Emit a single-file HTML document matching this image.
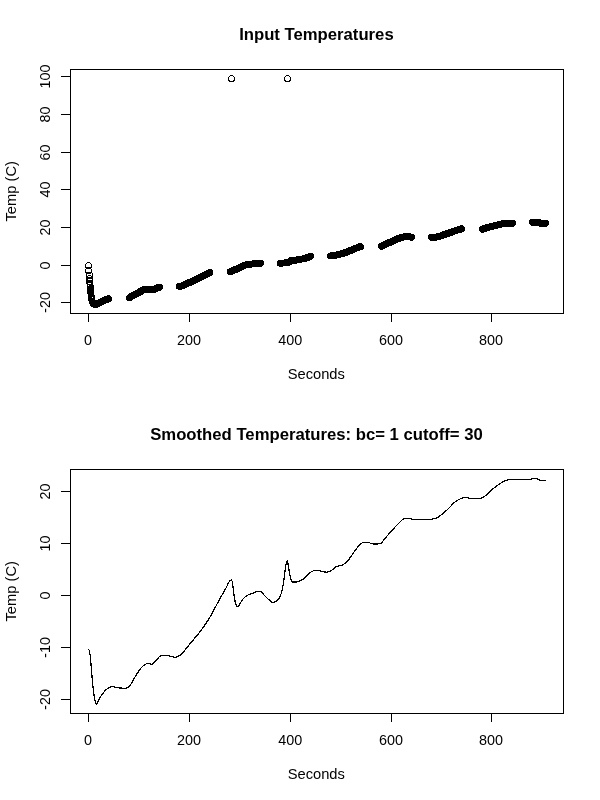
<!DOCTYPE html>
<html><head><meta charset="utf-8"><title>Temperatures</title>
<style>
html,body{margin:0;padding:0;background:#fff;}
svg{display:block;}
text{font-family:"Liberation Sans",sans-serif;fill:#000;}
.t{font-size:14.4px;}
.a{font-size:14.7px;}
.h{font-size:16.7px;font-weight:bold;}
.l{stroke:#000;stroke-width:1;fill:none;shape-rendering:crispEdges;}
.c circle{stroke:#000;stroke-width:1;fill:none;shape-rendering:crispEdges;}
</style></head><body>
<svg width="600" height="800" viewBox="0 0 600 800">
<rect width="600" height="800" fill="#fff"/>
<!-- top plot -->
<text class="h" x="316.4" y="40" text-anchor="middle">Input Temperatures</text>
<g class="l">
<rect x="70.5" y="69.5" width="493" height="244"/>
<path d="M88.5 313.5V321.5M189.5 313.5V321.5M290.5 313.5V321.5M391.5 313.5V321.5M491.5 313.5V321.5"/>
<path d="M70.5 76.5H60.5M70.5 114.5H60.5M70.5 152.5H60.5M70.5 189.5H60.5M70.5 227.5H60.5M70.5 265.5H60.5M70.5 302.5H60.5"/>
</g>
<g class="t" text-anchor="middle">
<text x="88" y="345">0</text><text x="189" y="345">200</text><text x="290.2" y="345">400</text><text x="391" y="345">600</text><text x="491" y="345">800</text>
<text class="a" x="316.3" y="379">Seconds</text>
<text transform="translate(50 76.5) rotate(-90)">100</text>
<text transform="translate(50 114.5) rotate(-90)">80</text>
<text transform="translate(50 152.5) rotate(-90)">60</text>
<text transform="translate(50 189.5) rotate(-90)">40</text>
<text transform="translate(50 227.5) rotate(-90)">20</text>
<text transform="translate(50 265.5) rotate(-90)">0</text>
<text transform="translate(50 302.5) rotate(-90)">-20</text>
<text transform="translate(16 191.3) rotate(-90)" class="a">Temp (C)</text>
</g>
<g class="c"><circle cx="88.5" cy="265.5" r="3"/><circle cx="88.5" cy="270.5" r="3"/><circle cx="89.5" cy="275.0" r="3"/><circle cx="89.5" cy="278.5" r="3"/><circle cx="89.7" cy="281.3" r="3"/><circle cx="89.9" cy="283.5" r="3"/><circle cx="90.1" cy="285.5" r="3"/><circle cx="90.3" cy="287.2" r="3"/><circle cx="90.5" cy="288.8" r="3"/><circle cx="90.6" cy="290.2" r="3"/><circle cx="90.7" cy="291.5" r="3"/><circle cx="90.9" cy="292.8" r="3"/><circle cx="91.0" cy="294.1" r="3"/><circle cx="91.1" cy="295.4" r="3"/><circle cx="91.2" cy="296.7" r="3"/><circle cx="91.3" cy="298.0" r="3"/><circle cx="91.4" cy="299.3" r="3"/><circle cx="92.0" cy="301.3" r="3"/><circle cx="92.5" cy="302.3" r="3"/><circle cx="93.0" cy="303.1" r="3"/><circle cx="93.5" cy="303.7" r="3"/><circle cx="94.0" cy="304.1" r="3"/><circle cx="94.5" cy="304.4" r="3"/><circle cx="95.0" cy="304.5" r="3"/><circle cx="95.5" cy="304.5" r="3"/><circle cx="96.0" cy="304.4" r="3"/><circle cx="96.5" cy="304.2" r="3"/><circle cx="97.0" cy="303.9" r="3"/><circle cx="97.5" cy="303.7" r="3"/><circle cx="98.0" cy="303.5" r="3"/><circle cx="98.5" cy="303.2" r="3"/><circle cx="99.0" cy="303.0" r="3"/><circle cx="99.5" cy="302.8" r="3"/><circle cx="100.0" cy="302.5" r="3"/><circle cx="100.5" cy="302.3" r="3"/><circle cx="101.0" cy="302.1" r="3"/><circle cx="101.5" cy="301.8" r="3"/><circle cx="102.0" cy="301.6" r="3"/><circle cx="102.5" cy="301.4" r="3"/><circle cx="103.0" cy="301.1" r="3"/><circle cx="103.5" cy="300.9" r="3"/><circle cx="104.0" cy="300.7" r="3"/><circle cx="104.5" cy="300.4" r="3"/><circle cx="105.0" cy="300.2" r="3"/><circle cx="105.5" cy="300.0" r="3"/><circle cx="106.0" cy="299.7" r="3"/><circle cx="106.5" cy="299.5" r="3"/><circle cx="107.0" cy="299.2" r="3"/><circle cx="107.5" cy="299.0" r="3"/><circle cx="108.0" cy="298.8" r="3"/><circle cx="108.5" cy="298.5" r="3"/><circle cx="129.3" cy="298.0" r="3"/><circle cx="129.8" cy="297.6" r="3"/><circle cx="130.3" cy="297.3" r="3"/><circle cx="130.8" cy="296.9" r="3"/><circle cx="131.3" cy="296.6" r="3"/><circle cx="131.8" cy="296.2" r="3"/><circle cx="132.3" cy="295.9" r="3"/><circle cx="132.8" cy="295.6" r="3"/><circle cx="133.3" cy="295.3" r="3"/><circle cx="133.8" cy="295.0" r="3"/><circle cx="134.3" cy="294.8" r="3"/><circle cx="134.8" cy="294.5" r="3"/><circle cx="135.3" cy="294.2" r="3"/><circle cx="135.8" cy="294.0" r="3"/><circle cx="136.3" cy="293.7" r="3"/><circle cx="136.9" cy="293.4" r="3"/><circle cx="137.4" cy="293.1" r="3"/><circle cx="137.9" cy="292.9" r="3"/><circle cx="138.4" cy="292.6" r="3"/><circle cx="138.9" cy="292.3" r="3"/><circle cx="139.4" cy="292.0" r="3"/><circle cx="139.9" cy="291.8" r="3"/><circle cx="140.4" cy="291.5" r="3"/><circle cx="140.9" cy="291.3" r="3"/><circle cx="141.4" cy="291.0" r="3"/><circle cx="141.9" cy="290.7" r="3"/><circle cx="142.4" cy="290.3" r="3"/><circle cx="142.9" cy="290.0" r="3"/><circle cx="143.4" cy="289.8" r="3"/><circle cx="143.9" cy="289.5" r="3"/><circle cx="144.4" cy="289.4" r="3"/><circle cx="144.9" cy="289.3" r="3"/><circle cx="145.4" cy="289.3" r="3"/><circle cx="145.9" cy="289.4" r="3"/><circle cx="146.4" cy="289.4" r="3"/><circle cx="146.9" cy="289.5" r="3"/><circle cx="147.4" cy="289.6" r="3"/><circle cx="147.9" cy="289.7" r="3"/><circle cx="148.4" cy="289.8" r="3"/><circle cx="148.9" cy="289.8" r="3"/><circle cx="149.4" cy="289.8" r="3"/><circle cx="149.9" cy="289.8" r="3"/><circle cx="150.4" cy="289.8" r="3"/><circle cx="151.0" cy="289.8" r="3"/><circle cx="151.5" cy="289.7" r="3"/><circle cx="152.0" cy="289.7" r="3"/><circle cx="152.5" cy="289.7" r="3"/><circle cx="153.0" cy="289.6" r="3"/><circle cx="153.5" cy="289.6" r="3"/><circle cx="154.0" cy="289.5" r="3"/><circle cx="154.5" cy="289.3" r="3"/><circle cx="155.0" cy="289.0" r="3"/><circle cx="155.5" cy="288.8" r="3"/><circle cx="156.0" cy="288.5" r="3"/><circle cx="156.5" cy="288.2" r="3"/><circle cx="157.0" cy="288.0" r="3"/><circle cx="157.5" cy="287.8" r="3"/><circle cx="158.0" cy="287.7" r="3"/><circle cx="158.5" cy="287.5" r="3"/><circle cx="159.0" cy="287.4" r="3"/><circle cx="159.5" cy="287.3" r="3"/><circle cx="159.6" cy="287.3" r="3"/><circle cx="179.3" cy="286.3" r="3"/><circle cx="179.8" cy="286.3" r="3"/><circle cx="180.3" cy="286.2" r="3"/><circle cx="180.8" cy="286.1" r="3"/><circle cx="181.3" cy="286.0" r="3"/><circle cx="181.8" cy="285.9" r="3"/><circle cx="182.3" cy="285.8" r="3"/><circle cx="182.8" cy="285.6" r="3"/><circle cx="183.3" cy="285.4" r="3"/><circle cx="183.8" cy="285.1" r="3"/><circle cx="184.3" cy="284.9" r="3"/><circle cx="184.8" cy="284.6" r="3"/><circle cx="185.3" cy="284.4" r="3"/><circle cx="185.8" cy="284.1" r="3"/><circle cx="186.3" cy="283.9" r="3"/><circle cx="186.9" cy="283.7" r="3"/><circle cx="187.4" cy="283.4" r="3"/><circle cx="187.9" cy="283.2" r="3"/><circle cx="188.4" cy="283.0" r="3"/><circle cx="188.9" cy="282.8" r="3"/><circle cx="189.4" cy="282.6" r="3"/><circle cx="189.9" cy="282.3" r="3"/><circle cx="190.4" cy="282.1" r="3"/><circle cx="190.9" cy="281.9" r="3"/><circle cx="191.4" cy="281.7" r="3"/><circle cx="191.9" cy="281.4" r="3"/><circle cx="192.4" cy="281.2" r="3"/><circle cx="192.9" cy="281.0" r="3"/><circle cx="193.4" cy="280.8" r="3"/><circle cx="193.9" cy="280.5" r="3"/><circle cx="194.4" cy="280.3" r="3"/><circle cx="194.9" cy="280.0" r="3"/><circle cx="195.4" cy="279.8" r="3"/><circle cx="195.9" cy="279.6" r="3"/><circle cx="196.4" cy="279.3" r="3"/><circle cx="196.9" cy="279.1" r="3"/><circle cx="197.4" cy="278.8" r="3"/><circle cx="197.9" cy="278.6" r="3"/><circle cx="198.4" cy="278.3" r="3"/><circle cx="198.9" cy="278.1" r="3"/><circle cx="199.4" cy="277.8" r="3"/><circle cx="199.9" cy="277.6" r="3"/><circle cx="200.4" cy="277.3" r="3"/><circle cx="201.0" cy="277.0" r="3"/><circle cx="201.5" cy="276.8" r="3"/><circle cx="202.0" cy="276.5" r="3"/><circle cx="202.5" cy="276.3" r="3"/><circle cx="203.0" cy="276.0" r="3"/><circle cx="203.5" cy="275.7" r="3"/><circle cx="204.0" cy="275.5" r="3"/><circle cx="204.5" cy="275.2" r="3"/><circle cx="205.0" cy="275.0" r="3"/><circle cx="205.5" cy="274.7" r="3"/><circle cx="206.0" cy="274.4" r="3"/><circle cx="206.5" cy="274.2" r="3"/><circle cx="207.0" cy="273.9" r="3"/><circle cx="207.5" cy="273.6" r="3"/><circle cx="208.0" cy="273.4" r="3"/><circle cx="208.5" cy="273.1" r="3"/><circle cx="209.0" cy="272.8" r="3"/><circle cx="209.5" cy="272.5" r="3"/><circle cx="209.6" cy="272.5" r="3"/><circle cx="230.3" cy="271.8" r="3"/><circle cx="230.8" cy="271.6" r="3"/><circle cx="231.3" cy="271.4" r="3"/><circle cx="231.8" cy="271.1" r="3"/><circle cx="232.3" cy="270.9" r="3"/><circle cx="232.8" cy="270.7" r="3"/><circle cx="233.3" cy="270.5" r="3"/><circle cx="233.8" cy="270.3" r="3"/><circle cx="234.3" cy="270.1" r="3"/><circle cx="234.8" cy="269.8" r="3"/><circle cx="235.3" cy="269.6" r="3"/><circle cx="235.8" cy="269.4" r="3"/><circle cx="236.3" cy="269.2" r="3"/><circle cx="236.8" cy="268.9" r="3"/><circle cx="237.3" cy="268.7" r="3"/><circle cx="237.9" cy="268.5" r="3"/><circle cx="238.4" cy="268.2" r="3"/><circle cx="238.9" cy="267.9" r="3"/><circle cx="239.4" cy="267.7" r="3"/><circle cx="239.9" cy="267.4" r="3"/><circle cx="240.4" cy="267.1" r="3"/><circle cx="240.9" cy="266.9" r="3"/><circle cx="241.4" cy="266.6" r="3"/><circle cx="241.9" cy="266.4" r="3"/><circle cx="242.4" cy="266.1" r="3"/><circle cx="242.9" cy="265.9" r="3"/><circle cx="243.4" cy="265.7" r="3"/><circle cx="243.9" cy="265.5" r="3"/><circle cx="244.4" cy="265.4" r="3"/><circle cx="244.9" cy="265.2" r="3"/><circle cx="245.4" cy="265.1" r="3"/><circle cx="245.9" cy="265.0" r="3"/><circle cx="246.4" cy="264.9" r="3"/><circle cx="246.9" cy="264.8" r="3"/><circle cx="247.4" cy="264.7" r="3"/><circle cx="247.9" cy="264.6" r="3"/><circle cx="248.4" cy="264.5" r="3"/><circle cx="248.9" cy="264.4" r="3"/><circle cx="249.4" cy="264.3" r="3"/><circle cx="249.9" cy="264.2" r="3"/><circle cx="250.4" cy="264.2" r="3"/><circle cx="250.9" cy="264.1" r="3"/><circle cx="251.4" cy="264.0" r="3"/><circle cx="252.0" cy="264.0" r="3"/><circle cx="252.5" cy="263.9" r="3"/><circle cx="253.0" cy="263.8" r="3"/><circle cx="253.5" cy="263.8" r="3"/><circle cx="254.0" cy="263.7" r="3"/><circle cx="254.5" cy="263.7" r="3"/><circle cx="255.0" cy="263.6" r="3"/><circle cx="255.5" cy="263.6" r="3"/><circle cx="256.0" cy="263.5" r="3"/><circle cx="256.5" cy="263.5" r="3"/><circle cx="257.0" cy="263.5" r="3"/><circle cx="257.5" cy="263.4" r="3"/><circle cx="258.0" cy="263.4" r="3"/><circle cx="258.5" cy="263.3" r="3"/><circle cx="259.0" cy="263.3" r="3"/><circle cx="259.5" cy="263.3" r="3"/><circle cx="260.0" cy="263.3" r="3"/><circle cx="260.5" cy="263.2" r="3"/><circle cx="280.3" cy="263.2" r="3"/><circle cx="280.8" cy="263.2" r="3"/><circle cx="281.3" cy="263.2" r="3"/><circle cx="281.8" cy="263.2" r="3"/><circle cx="282.3" cy="263.1" r="3"/><circle cx="282.8" cy="263.1" r="3"/><circle cx="283.3" cy="263.0" r="3"/><circle cx="283.8" cy="263.0" r="3"/><circle cx="284.3" cy="262.9" r="3"/><circle cx="284.8" cy="262.9" r="3"/><circle cx="285.3" cy="262.8" r="3"/><circle cx="285.8" cy="262.7" r="3"/><circle cx="286.3" cy="262.7" r="3"/><circle cx="286.8" cy="262.6" r="3"/><circle cx="287.3" cy="262.5" r="3"/><circle cx="287.9" cy="262.4" r="3"/><circle cx="288.4" cy="262.3" r="3"/><circle cx="288.9" cy="262.1" r="3"/><circle cx="289.4" cy="262.0" r="3"/><circle cx="289.9" cy="261.6" r="3"/><circle cx="290.4" cy="261.1" r="3"/><circle cx="290.9" cy="260.8" r="3"/><circle cx="291.4" cy="260.7" r="3"/><circle cx="291.9" cy="260.6" r="3"/><circle cx="292.4" cy="260.5" r="3"/><circle cx="292.9" cy="260.4" r="3"/><circle cx="293.4" cy="260.4" r="3"/><circle cx="293.9" cy="260.3" r="3"/><circle cx="294.4" cy="260.3" r="3"/><circle cx="294.9" cy="260.2" r="3"/><circle cx="295.4" cy="260.2" r="3"/><circle cx="295.9" cy="260.1" r="3"/><circle cx="296.4" cy="260.1" r="3"/><circle cx="296.9" cy="260.0" r="3"/><circle cx="297.4" cy="259.9" r="3"/><circle cx="297.9" cy="259.8" r="3"/><circle cx="298.4" cy="259.8" r="3"/><circle cx="298.9" cy="259.7" r="3"/><circle cx="299.4" cy="259.6" r="3"/><circle cx="299.9" cy="259.5" r="3"/><circle cx="300.4" cy="259.3" r="3"/><circle cx="300.9" cy="259.2" r="3"/><circle cx="301.4" cy="259.1" r="3"/><circle cx="302.0" cy="259.0" r="3"/><circle cx="302.5" cy="258.9" r="3"/><circle cx="303.0" cy="258.8" r="3"/><circle cx="303.5" cy="258.7" r="3"/><circle cx="304.0" cy="258.5" r="3"/><circle cx="304.5" cy="258.4" r="3"/><circle cx="305.0" cy="258.3" r="3"/><circle cx="305.5" cy="258.1" r="3"/><circle cx="306.0" cy="258.0" r="3"/><circle cx="306.5" cy="257.9" r="3"/><circle cx="307.0" cy="257.7" r="3"/><circle cx="307.5" cy="257.5" r="3"/><circle cx="308.0" cy="257.4" r="3"/><circle cx="308.5" cy="257.2" r="3"/><circle cx="309.0" cy="257.0" r="3"/><circle cx="309.5" cy="256.8" r="3"/><circle cx="310.0" cy="256.6" r="3"/><circle cx="310.5" cy="256.4" r="3"/><circle cx="330.3" cy="256.0" r="3"/><circle cx="330.8" cy="255.9" r="3"/><circle cx="331.3" cy="255.9" r="3"/><circle cx="331.8" cy="255.8" r="3"/><circle cx="332.3" cy="255.7" r="3"/><circle cx="332.8" cy="255.7" r="3"/><circle cx="333.3" cy="255.6" r="3"/><circle cx="333.8" cy="255.5" r="3"/><circle cx="334.3" cy="255.4" r="3"/><circle cx="334.8" cy="255.3" r="3"/><circle cx="335.3" cy="255.2" r="3"/><circle cx="335.8" cy="255.1" r="3"/><circle cx="336.3" cy="255.0" r="3"/><circle cx="336.8" cy="254.9" r="3"/><circle cx="337.3" cy="254.8" r="3"/><circle cx="337.9" cy="254.7" r="3"/><circle cx="338.4" cy="254.6" r="3"/><circle cx="338.9" cy="254.5" r="3"/><circle cx="339.4" cy="254.3" r="3"/><circle cx="339.9" cy="254.2" r="3"/><circle cx="340.4" cy="254.1" r="3"/><circle cx="340.9" cy="254.0" r="3"/><circle cx="341.4" cy="253.9" r="3"/><circle cx="341.9" cy="253.7" r="3"/><circle cx="342.4" cy="253.6" r="3"/><circle cx="342.9" cy="253.4" r="3"/><circle cx="343.4" cy="253.3" r="3"/><circle cx="343.9" cy="253.1" r="3"/><circle cx="344.4" cy="252.9" r="3"/><circle cx="344.9" cy="252.8" r="3"/><circle cx="345.4" cy="252.6" r="3"/><circle cx="345.9" cy="252.4" r="3"/><circle cx="346.4" cy="252.2" r="3"/><circle cx="346.9" cy="252.0" r="3"/><circle cx="347.4" cy="251.8" r="3"/><circle cx="347.9" cy="251.6" r="3"/><circle cx="348.4" cy="251.4" r="3"/><circle cx="348.9" cy="251.2" r="3"/><circle cx="349.4" cy="251.0" r="3"/><circle cx="349.9" cy="250.7" r="3"/><circle cx="350.4" cy="250.5" r="3"/><circle cx="350.9" cy="250.3" r="3"/><circle cx="351.4" cy="250.0" r="3"/><circle cx="352.0" cy="249.8" r="3"/><circle cx="352.5" cy="249.6" r="3"/><circle cx="353.0" cy="249.3" r="3"/><circle cx="353.5" cy="249.1" r="3"/><circle cx="354.0" cy="248.9" r="3"/><circle cx="354.5" cy="248.7" r="3"/><circle cx="355.0" cy="248.5" r="3"/><circle cx="355.5" cy="248.3" r="3"/><circle cx="356.0" cy="248.1" r="3"/><circle cx="356.5" cy="247.9" r="3"/><circle cx="357.0" cy="247.8" r="3"/><circle cx="357.5" cy="247.6" r="3"/><circle cx="358.0" cy="247.4" r="3"/><circle cx="358.5" cy="247.2" r="3"/><circle cx="359.0" cy="247.0" r="3"/><circle cx="359.5" cy="246.8" r="3"/><circle cx="360.0" cy="246.7" r="3"/><circle cx="360.5" cy="246.5" r="3"/><circle cx="381.4" cy="246.3" r="3"/><circle cx="381.9" cy="246.1" r="3"/><circle cx="382.4" cy="245.8" r="3"/><circle cx="382.9" cy="245.6" r="3"/><circle cx="383.4" cy="245.3" r="3"/><circle cx="383.9" cy="245.1" r="3"/><circle cx="384.4" cy="244.8" r="3"/><circle cx="384.9" cy="244.6" r="3"/><circle cx="385.4" cy="244.4" r="3"/><circle cx="385.9" cy="244.1" r="3"/><circle cx="386.4" cy="243.9" r="3"/><circle cx="386.9" cy="243.7" r="3"/><circle cx="387.4" cy="243.4" r="3"/><circle cx="387.9" cy="243.2" r="3"/><circle cx="388.4" cy="243.0" r="3"/><circle cx="389.0" cy="242.7" r="3"/><circle cx="389.5" cy="242.5" r="3"/><circle cx="390.0" cy="242.3" r="3"/><circle cx="390.5" cy="242.1" r="3"/><circle cx="391.0" cy="241.8" r="3"/><circle cx="391.5" cy="241.6" r="3"/><circle cx="392.0" cy="241.4" r="3"/><circle cx="392.5" cy="241.1" r="3"/><circle cx="393.0" cy="240.9" r="3"/><circle cx="393.5" cy="240.7" r="3"/><circle cx="394.0" cy="240.4" r="3"/><circle cx="394.5" cy="240.2" r="3"/><circle cx="395.0" cy="240.0" r="3"/><circle cx="395.5" cy="239.7" r="3"/><circle cx="396.0" cy="239.5" r="3"/><circle cx="396.5" cy="239.3" r="3"/><circle cx="397.0" cy="239.1" r="3"/><circle cx="397.5" cy="238.9" r="3"/><circle cx="398.0" cy="238.7" r="3"/><circle cx="398.5" cy="238.5" r="3"/><circle cx="399.0" cy="238.4" r="3"/><circle cx="399.5" cy="238.2" r="3"/><circle cx="400.0" cy="238.0" r="3"/><circle cx="400.5" cy="237.8" r="3"/><circle cx="401.0" cy="237.7" r="3"/><circle cx="401.5" cy="237.5" r="3"/><circle cx="402.0" cy="237.3" r="3"/><circle cx="402.5" cy="237.2" r="3"/><circle cx="403.1" cy="237.0" r="3"/><circle cx="403.6" cy="236.9" r="3"/><circle cx="404.1" cy="236.8" r="3"/><circle cx="404.6" cy="236.7" r="3"/><circle cx="405.1" cy="236.6" r="3"/><circle cx="405.6" cy="236.6" r="3"/><circle cx="406.1" cy="236.6" r="3"/><circle cx="406.6" cy="236.6" r="3"/><circle cx="407.1" cy="236.6" r="3"/><circle cx="407.6" cy="236.6" r="3"/><circle cx="408.1" cy="236.7" r="3"/><circle cx="408.6" cy="236.7" r="3"/><circle cx="409.1" cy="236.8" r="3"/><circle cx="409.6" cy="236.9" r="3"/><circle cx="410.1" cy="237.0" r="3"/><circle cx="410.6" cy="237.1" r="3"/><circle cx="411.1" cy="237.2" r="3"/><circle cx="411.5" cy="237.3" r="3"/><circle cx="431.4" cy="237.3" r="3"/><circle cx="431.9" cy="237.3" r="3"/><circle cx="432.4" cy="237.3" r="3"/><circle cx="432.9" cy="237.3" r="3"/><circle cx="433.4" cy="237.2" r="3"/><circle cx="433.9" cy="237.2" r="3"/><circle cx="434.4" cy="237.2" r="3"/><circle cx="434.9" cy="237.2" r="3"/><circle cx="435.4" cy="237.1" r="3"/><circle cx="435.9" cy="237.1" r="3"/><circle cx="436.4" cy="237.0" r="3"/><circle cx="436.9" cy="237.0" r="3"/><circle cx="437.4" cy="236.9" r="3"/><circle cx="437.9" cy="236.8" r="3"/><circle cx="438.4" cy="236.7" r="3"/><circle cx="439.0" cy="236.5" r="3"/><circle cx="439.5" cy="236.4" r="3"/><circle cx="440.0" cy="236.2" r="3"/><circle cx="440.5" cy="236.0" r="3"/><circle cx="441.0" cy="235.9" r="3"/><circle cx="441.5" cy="235.7" r="3"/><circle cx="442.0" cy="235.5" r="3"/><circle cx="442.5" cy="235.3" r="3"/><circle cx="443.0" cy="235.1" r="3"/><circle cx="443.5" cy="234.9" r="3"/><circle cx="444.0" cy="234.7" r="3"/><circle cx="444.5" cy="234.5" r="3"/><circle cx="445.0" cy="234.3" r="3"/><circle cx="445.5" cy="234.1" r="3"/><circle cx="446.0" cy="234.0" r="3"/><circle cx="446.5" cy="233.8" r="3"/><circle cx="447.0" cy="233.6" r="3"/><circle cx="447.5" cy="233.5" r="3"/><circle cx="448.0" cy="233.3" r="3"/><circle cx="448.5" cy="233.1" r="3"/><circle cx="449.0" cy="232.9" r="3"/><circle cx="449.5" cy="232.8" r="3"/><circle cx="450.0" cy="232.6" r="3"/><circle cx="450.5" cy="232.4" r="3"/><circle cx="451.0" cy="232.3" r="3"/><circle cx="451.5" cy="232.1" r="3"/><circle cx="452.0" cy="231.9" r="3"/><circle cx="452.5" cy="231.8" r="3"/><circle cx="453.1" cy="231.6" r="3"/><circle cx="453.6" cy="231.4" r="3"/><circle cx="454.1" cy="231.2" r="3"/><circle cx="454.6" cy="231.1" r="3"/><circle cx="455.1" cy="230.9" r="3"/><circle cx="455.6" cy="230.7" r="3"/><circle cx="456.1" cy="230.6" r="3"/><circle cx="456.6" cy="230.4" r="3"/><circle cx="457.1" cy="230.2" r="3"/><circle cx="457.6" cy="230.1" r="3"/><circle cx="458.1" cy="229.9" r="3"/><circle cx="458.6" cy="229.8" r="3"/><circle cx="459.1" cy="229.6" r="3"/><circle cx="459.6" cy="229.4" r="3"/><circle cx="460.1" cy="229.3" r="3"/><circle cx="460.6" cy="229.1" r="3"/><circle cx="461.1" cy="228.9" r="3"/><circle cx="461.5" cy="228.8" r="3"/><circle cx="482.4" cy="229.2" r="3"/><circle cx="482.9" cy="229.0" r="3"/><circle cx="483.4" cy="228.9" r="3"/><circle cx="483.9" cy="228.7" r="3"/><circle cx="484.4" cy="228.6" r="3"/><circle cx="484.9" cy="228.4" r="3"/><circle cx="485.4" cy="228.3" r="3"/><circle cx="485.9" cy="228.1" r="3"/><circle cx="486.4" cy="228.0" r="3"/><circle cx="486.9" cy="227.8" r="3"/><circle cx="487.4" cy="227.7" r="3"/><circle cx="487.9" cy="227.5" r="3"/><circle cx="488.4" cy="227.4" r="3"/><circle cx="488.9" cy="227.2" r="3"/><circle cx="489.4" cy="227.1" r="3"/><circle cx="490.0" cy="226.9" r="3"/><circle cx="490.5" cy="226.8" r="3"/><circle cx="491.0" cy="226.7" r="3"/><circle cx="491.5" cy="226.5" r="3"/><circle cx="492.0" cy="226.4" r="3"/><circle cx="492.5" cy="226.3" r="3"/><circle cx="493.0" cy="226.1" r="3"/><circle cx="493.5" cy="226.0" r="3"/><circle cx="494.0" cy="225.9" r="3"/><circle cx="494.5" cy="225.7" r="3"/><circle cx="495.0" cy="225.6" r="3"/><circle cx="495.5" cy="225.5" r="3"/><circle cx="496.0" cy="225.3" r="3"/><circle cx="496.5" cy="225.2" r="3"/><circle cx="497.0" cy="225.1" r="3"/><circle cx="497.5" cy="225.0" r="3"/><circle cx="498.0" cy="224.8" r="3"/><circle cx="498.5" cy="224.7" r="3"/><circle cx="499.0" cy="224.6" r="3"/><circle cx="499.5" cy="224.4" r="3"/><circle cx="500.0" cy="224.3" r="3"/><circle cx="500.5" cy="224.2" r="3"/><circle cx="501.0" cy="224.1" r="3"/><circle cx="501.5" cy="224.0" r="3"/><circle cx="502.0" cy="223.9" r="3"/><circle cx="502.5" cy="223.8" r="3"/><circle cx="503.0" cy="223.8" r="3"/><circle cx="503.5" cy="223.7" r="3"/><circle cx="504.1" cy="223.7" r="3"/><circle cx="504.6" cy="223.6" r="3"/><circle cx="505.1" cy="223.6" r="3"/><circle cx="505.6" cy="223.5" r="3"/><circle cx="506.1" cy="223.5" r="3"/><circle cx="506.6" cy="223.4" r="3"/><circle cx="507.1" cy="223.4" r="3"/><circle cx="507.6" cy="223.4" r="3"/><circle cx="508.1" cy="223.4" r="3"/><circle cx="508.6" cy="223.4" r="3"/><circle cx="509.1" cy="223.4" r="3"/><circle cx="509.6" cy="223.4" r="3"/><circle cx="510.1" cy="223.4" r="3"/><circle cx="510.6" cy="223.4" r="3"/><circle cx="511.1" cy="223.4" r="3"/><circle cx="511.6" cy="223.4" r="3"/><circle cx="512.1" cy="223.4" r="3"/><circle cx="512.5" cy="223.4" r="3"/><circle cx="532.5" cy="222.4" r="3"/><circle cx="533.0" cy="222.4" r="3"/><circle cx="533.5" cy="222.4" r="3"/><circle cx="534.0" cy="222.4" r="3"/><circle cx="534.5" cy="222.4" r="3"/><circle cx="535.0" cy="222.4" r="3"/><circle cx="535.5" cy="222.4" r="3"/><circle cx="536.0" cy="222.4" r="3"/><circle cx="536.5" cy="222.4" r="3"/><circle cx="537.0" cy="222.4" r="3"/><circle cx="537.5" cy="222.4" r="3"/><circle cx="538.0" cy="222.4" r="3"/><circle cx="538.5" cy="222.4" r="3"/><circle cx="539.0" cy="222.4" r="3"/><circle cx="539.5" cy="222.6" r="3"/><circle cx="540.1" cy="222.9" r="3"/><circle cx="540.6" cy="223.3" r="3"/><circle cx="541.1" cy="223.4" r="3"/><circle cx="541.6" cy="223.4" r="3"/><circle cx="542.1" cy="223.4" r="3"/><circle cx="542.6" cy="223.4" r="3"/><circle cx="543.1" cy="223.4" r="3"/><circle cx="543.6" cy="223.4" r="3"/><circle cx="544.1" cy="223.4" r="3"/><circle cx="544.6" cy="223.4" r="3"/><circle cx="545.1" cy="223.4" r="3"/><circle cx="545.5" cy="223.4" r="3"/><circle cx="231.5" cy="78.5" r="3"/><circle cx="287.5" cy="78.5" r="3"/></g>
<!-- bottom plot -->
<text class="h" x="316.5" y="440" text-anchor="middle">Smoothed Temperatures: bc= 1 cutoff= 30</text>
<g class="l">
<rect x="70.5" y="469.5" width="493" height="244"/>
<path d="M88.5 713.5V721.5M189.5 713.5V721.5M290.5 713.5V721.5M391.5 713.5V721.5M491.5 713.5V721.5"/>
<path d="M70.5 491.5H60.5M70.5 543.5H60.5M70.5 595.5H60.5M70.5 647.5H60.5M70.5 699.5H60.5"/>
</g>
<g class="t" text-anchor="middle">
<text x="88" y="745">0</text><text x="189" y="745">200</text><text x="290.2" y="745">400</text><text x="391" y="745">600</text><text x="491" y="745">800</text>
<text class="a" x="316.3" y="779">Seconds</text>
<text transform="translate(50 491.5) rotate(-90)">20</text>
<text transform="translate(50 543.5) rotate(-90)">10</text>
<text transform="translate(50 595.5) rotate(-90)">0</text>
<text transform="translate(50 647.5) rotate(-90)">-10</text>
<text transform="translate(50 699.5) rotate(-90)">-20</text>
<text transform="translate(16 591.3) rotate(-90)" class="a">Temp (C)</text>
</g>
<path fill="#000" shape-rendering="crispEdges" d="M531 478h7v1h-7zM507 479h25v1h-25zM537 479h3v1h-3zM504 480h4v1h-4zM539 480h7v1h-7zM502 481h3v1h-3zM501 482h2v1h-2zM499 483h2v1h-2zM498 484h2v1h-2zM496 485h2v1h-2zM495 486h2v1h-2zM494 487h2v1h-2zM492 488h2v1h-2zM491 489h2v1h-2zM490 490h2v1h-2zM489 491h2v1h-2zM488 492h2v1h-2zM487 493h2v1h-2zM486 494h2v1h-2zM485 495h2v1h-2zM483 496h2v1h-2zM462 497h7v1h-7zM481 497h3v1h-3zM460 498h3v1h-3zM468 498h14v1h-14zM458 499h2v1h-2zM456 500h2v1h-2zM455 501h2v1h-2zM453 502h2v1h-2zM452 503h2v1h-2zM451 504h2v1h-2zM451 505h1v1h-1zM450 506h1v1h-1zM449 507h1v1h-1zM448 508h1v1h-1zM447 509h1v1h-1zM445 510h2v1h-2zM444 511h2v1h-2zM443 512h2v1h-2zM442 513h2v1h-2zM441 514h2v1h-2zM439 515h2v1h-2zM438 516h2v1h-2zM436 517h3v1h-3zM403 518h9v1h-9zM432 518h5v1h-5zM402 519h2v1h-2zM411 519h22v1h-22zM401 520h1v1h-1zM400 521h1v1h-1zM399 522h1v1h-1zM398 523h1v1h-1zM397 524h1v1h-1zM396 525h1v1h-1zM395 526h1v1h-1zM394 527h1v1h-1zM393 528h2v1h-2zM392 529h2v1h-2zM391 530h2v1h-2zM390 531h2v1h-2zM389 532h2v1h-2zM388 533h2v1h-2zM388 534h1v1h-1zM387 535h1v1h-1zM386 536h1v1h-1zM385 537h2v1h-2zM384 538h2v1h-2zM383 539h2v1h-2zM383 540h1v1h-1zM382 541h1v1h-1zM362 542h8v1h-8zM381 542h2v1h-2zM360 543h2v1h-2zM370 543h12v1h-12zM359 544h2v1h-2zM373 544h5v1h-5zM358 545h2v1h-2zM357 546h2v1h-2zM357 547h1v1h-1zM356 548h1v1h-1zM355 549h2v1h-2zM354 550h2v1h-2zM354 551h1v1h-1zM353 552h1v1h-1zM352 553h2v1h-2zM352 554h1v1h-1zM351 555h1v1h-1zM350 556h2v1h-2zM349 557h2v1h-2zM349 558h1v1h-1zM348 559h2v1h-2zM287 560h1v1h-1zM347 560h2v1h-2zM286 561h2v1h-2zM346 561h2v1h-2zM286 562h2v1h-2zM345 562h2v1h-2zM286 563h3v1h-3zM344 563h2v1h-2zM285 564h4v1h-4zM342 564h2v1h-2zM285 565h1v1h-1zM288 565h1v1h-1zM338 565h5v1h-5zM285 566h1v1h-1zM288 566h1v1h-1zM335 566h4v1h-4zM285 567h1v1h-1zM288 567h1v1h-1zM334 567h2v1h-2zM285 568h1v1h-1zM288 568h1v1h-1zM333 568h2v1h-2zM285 569h1v1h-1zM288 569h2v1h-2zM332 569h2v1h-2zM284 570h2v1h-2zM288 570h2v1h-2zM313 570h8v1h-8zM330 570h2v1h-2zM284 571h2v1h-2zM289 571h1v1h-1zM311 571h2v1h-2zM320 571h6v1h-6zM327 571h4v1h-4zM284 572h1v1h-1zM289 572h1v1h-1zM309 572h2v1h-2zM324 572h4v1h-4zM284 573h1v1h-1zM289 573h1v1h-1zM308 573h2v1h-2zM284 574h1v1h-1zM289 574h1v1h-1zM307 574h2v1h-2zM284 575h1v1h-1zM289 575h2v1h-2zM306 575h2v1h-2zM284 576h1v1h-1zM290 576h1v1h-1zM305 576h2v1h-2zM284 577h1v1h-1zM290 577h1v1h-1zM304 577h2v1h-2zM283 578h2v1h-2zM290 578h1v1h-1zM303 578h2v1h-2zM231 579h1v1h-1zM283 579h2v1h-2zM290 579h2v1h-2zM301 579h3v1h-3zM229 580h3v1h-3zM283 580h1v1h-1zM291 580h1v1h-1zM299 580h3v1h-3zM229 581h1v1h-1zM232 581h1v1h-1zM283 581h1v1h-1zM291 581h9v1h-9zM228 582h1v1h-1zM232 582h1v1h-1zM283 582h1v1h-1zM292 582h5v1h-5zM227 583h2v1h-2zM232 583h1v1h-1zM283 583h1v1h-1zM227 584h1v1h-1zM232 584h1v1h-1zM283 584h1v1h-1zM227 585h1v1h-1zM232 585h1v1h-1zM282 585h2v1h-2zM226 586h1v1h-1zM232 586h2v1h-2zM282 586h1v1h-1zM226 587h1v1h-1zM232 587h2v1h-2zM282 587h1v1h-1zM225 588h1v1h-1zM233 588h1v1h-1zM282 588h1v1h-1zM224 589h2v1h-2zM233 589h1v1h-1zM282 589h1v1h-1zM224 590h1v1h-1zM233 590h1v1h-1zM281 590h2v1h-2zM223 591h2v1h-2zM233 591h1v1h-1zM255 591h7v1h-7zM281 591h1v1h-1zM223 592h1v1h-1zM233 592h1v1h-1zM253 592h3v1h-3zM261 592h2v1h-2zM281 592h1v1h-1zM222 593h2v1h-2zM233 593h1v1h-1zM250 593h4v1h-4zM262 593h2v1h-2zM281 593h1v1h-1zM222 594h1v1h-1zM233 594h2v1h-2zM248 594h3v1h-3zM263 594h1v1h-1zM280 594h1v1h-1zM221 595h1v1h-1zM233 595h2v1h-2zM246 595h2v1h-2zM264 595h1v1h-1zM280 595h1v1h-1zM220 596h2v1h-2zM234 596h1v1h-1zM245 596h2v1h-2zM265 596h1v1h-1zM279 596h2v1h-2zM220 597h1v1h-1zM234 597h1v1h-1zM244 597h1v1h-1zM266 597h1v1h-1zM279 597h1v1h-1zM219 598h2v1h-2zM234 598h1v1h-1zM243 598h1v1h-1zM267 598h1v1h-1zM278 598h2v1h-2zM219 599h1v1h-1zM234 599h1v1h-1zM242 599h1v1h-1zM268 599h2v1h-2zM277 599h2v1h-2zM218 600h2v1h-2zM234 600h2v1h-2zM241 600h2v1h-2zM269 600h2v1h-2zM276 600h2v1h-2zM218 601h1v1h-1zM234 601h2v1h-2zM241 601h1v1h-1zM270 601h2v1h-2zM274 601h3v1h-3zM217 602h2v1h-2zM235 602h1v1h-1zM240 602h1v1h-1zM271 602h4v1h-4zM217 603h1v1h-1zM235 603h1v1h-1zM239 603h2v1h-2zM216 604h1v1h-1zM235 604h2v1h-2zM239 604h1v1h-1zM216 605h1v1h-1zM236 605h1v1h-1zM238 605h2v1h-2zM215 606h1v1h-1zM236 606h3v1h-3zM214 607h2v1h-2zM214 608h1v1h-1zM213 609h2v1h-2zM213 610h1v1h-1zM212 611h2v1h-2zM212 612h1v1h-1zM211 613h2v1h-2zM211 614h1v1h-1zM210 615h2v1h-2zM210 616h1v1h-1zM209 617h1v1h-1zM208 618h2v1h-2zM208 619h1v1h-1zM207 620h2v1h-2zM206 621h2v1h-2zM206 622h1v1h-1zM205 623h2v1h-2zM204 624h2v1h-2zM204 625h1v1h-1zM203 626h2v1h-2zM202 627h2v1h-2zM202 628h1v1h-1zM201 629h1v1h-1zM200 630h2v1h-2zM199 631h2v1h-2zM199 632h1v1h-1zM198 633h1v1h-1zM197 634h2v1h-2zM196 635h2v1h-2zM195 636h2v1h-2zM194 637h2v1h-2zM194 638h1v1h-1zM193 639h1v1h-1zM192 640h2v1h-2zM191 641h2v1h-2zM190 642h2v1h-2zM189 643h2v1h-2zM189 644h1v1h-1zM188 645h1v1h-1zM187 646h2v1h-2zM186 647h2v1h-2zM185 648h2v1h-2zM88 649h1v1h-1zM185 649h1v1h-1zM89 650h1v1h-1zM184 650h1v1h-1zM89 651h1v1h-1zM183 651h2v1h-2zM89 652h1v1h-1zM182 652h2v1h-2zM89 653h1v1h-1zM181 653h2v1h-2zM89 654h2v1h-2zM180 654h2v1h-2zM90 655h1v1h-1zM160 655h10v1h-10zM178 655h3v1h-3zM90 656h1v1h-1zM159 656h2v1h-2zM169 656h5v1h-5zM176 656h3v1h-3zM90 657h1v1h-1zM158 657h1v1h-1zM173 657h4v1h-4zM90 658h1v1h-1zM157 658h2v1h-2zM90 659h1v1h-1zM156 659h2v1h-2zM90 660h1v1h-1zM155 660h2v1h-2zM90 661h1v1h-1zM154 661h2v1h-2zM90 662h1v1h-1zM153 662h2v1h-2zM90 663h2v1h-2zM146 663h5v1h-5zM152 663h2v1h-2zM90 664h2v1h-2zM144 664h2v1h-2zM150 664h3v1h-3zM90 665h2v1h-2zM143 665h2v1h-2zM91 666h1v1h-1zM142 666h1v1h-1zM91 667h1v1h-1zM141 667h1v1h-1zM91 668h1v1h-1zM140 668h1v1h-1zM91 669h1v1h-1zM139 669h2v1h-2zM91 670h1v1h-1zM138 670h2v1h-2zM91 671h1v1h-1zM138 671h1v1h-1zM91 672h1v1h-1zM137 672h2v1h-2zM91 673h1v1h-1zM136 673h2v1h-2zM91 674h1v1h-1zM136 674h1v1h-1zM91 675h2v1h-2zM135 675h2v1h-2zM91 676h2v1h-2zM135 676h1v1h-1zM91 677h2v1h-2zM134 677h1v1h-1zM92 678h1v1h-1zM133 678h2v1h-2zM92 679h1v1h-1zM133 679h1v1h-1zM92 680h1v1h-1zM132 680h2v1h-2zM92 681h1v1h-1zM132 681h1v1h-1zM92 682h1v1h-1zM131 682h2v1h-2zM92 683h1v1h-1zM131 683h1v1h-1zM92 684h1v1h-1zM130 684h1v1h-1zM92 685h1v1h-1zM129 685h2v1h-2zM92 686h2v1h-2zM110 686h5v1h-5zM128 686h2v1h-2zM92 687h2v1h-2zM108 687h3v1h-3zM114 687h8v1h-8zM126 687h3v1h-3zM93 688h1v1h-1zM107 688h2v1h-2zM119 688h8v1h-8zM93 689h1v1h-1zM105 689h2v1h-2zM93 690h1v1h-1zM104 690h2v1h-2zM93 691h1v1h-1zM104 691h1v1h-1zM93 692h1v1h-1zM103 692h1v1h-1zM93 693h1v1h-1zM102 693h2v1h-2zM93 694h2v1h-2zM101 694h2v1h-2zM93 695h2v1h-2zM101 695h1v1h-1zM94 696h1v1h-1zM100 696h1v1h-1zM94 697h1v1h-1zM99 697h2v1h-2zM94 698h1v1h-1zM99 698h1v1h-1zM94 699h1v1h-1zM98 699h2v1h-2zM94 700h2v1h-2zM98 700h1v1h-1zM95 701h1v1h-1zM97 701h2v1h-2zM95 702h1v1h-1zM97 702h1v1h-1zM95 703h3v1h-3zM96 704h1v1h-1z"/>
</svg>
</body></html>
